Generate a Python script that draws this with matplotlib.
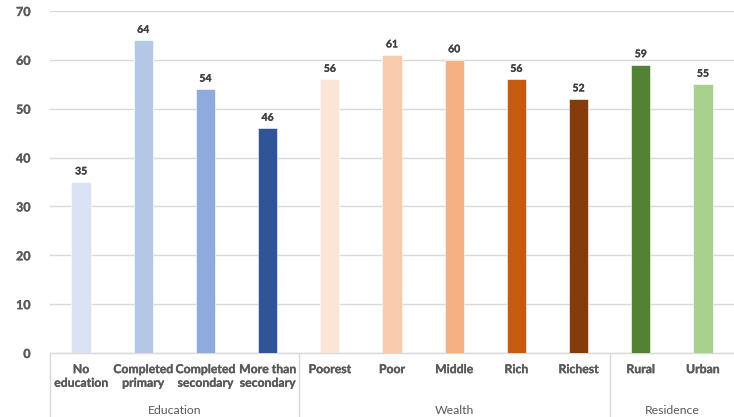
import matplotlib
matplotlib.use("Agg")
import matplotlib.pyplot as plt
import matplotlib.transforms as mtransforms
import matplotlib.patheffects as pe

plt.rcParams['font.family'] = ['Lato', 'DejaVu Sans']

categories = ["No\neducation", "Completed\nprimary", "Completed\nsecondary", "More than\nsecondary",
              "Poorest", "Poor", "Middle", "Rich", "Richest",
              "Rural", "Urban"]
values = [35, 64, 54, 46, 56, 61, 60, 56, 52, 59, 55]
colors = ["#DAE3F3", "#B4C7E7", "#8FAADC", "#2F5597",
          "#FBE5D6", "#F8CBAD", "#F4B183", "#C55A11", "#843C0C",
          "#548235", "#A9D18E"]
groups = ["Education", "Wealth", "Residence"]
group_sizes = [4, 5, 2]
yticks = [0, 10, 20, 30, 40, 50, 60, 70]

text_color = "#595959"
grid_color = "#D9D9D9"
thick = [pe.withStroke(linewidth=0.2, foreground=text_color)]

fig = plt.figure(figsize=(7.34, 4.17), dpi=100)
ax = fig.add_axes([50 / 734, 64 / 417, 684 / 734, 342 / 417])

x = list(range(len(values)))
ax.bar(x, values, width=0.31, color=colors, zorder=3, edgecolor="white", linewidth=0.4)

for xi, v in zip(x, values):
    ax.annotate(str(v), (xi, v), xytext=(0, 4), textcoords="offset points",
                ha="center", va="bottom", fontsize=7.5, fontweight="bold", color="#404040",
                path_effects=[pe.withStroke(linewidth=0.2, foreground="#404040")])

ax.set_xlim(-0.5, len(values) - 0.5)
ax.set_ylim(0, 70)
ax.set_yticks(yticks)
ax.yaxis.grid(True, color=grid_color, linewidth=1)
ax.set_axisbelow(True)
for s in ["top", "right", "left"]:
    ax.spines[s].set_visible(False)
ax.spines["bottom"].set_color(grid_color)
ax.spines["bottom"].set_linewidth(1)

ax.tick_params(axis="y", length=0, pad=14, labelsize=9, labelcolor=text_color)
for lbl in ax.get_yticklabels():
    lbl.set_fontweight("bold")
    lbl.set_path_effects(thick)

ax.set_xticks(x)
ax.set_xticklabels(categories, fontsize=8.8, fontweight="bold", color=text_color, linespacing=1.3)
ax.tick_params(axis="x", length=0, pad=8)
for lbl in ax.get_xticklabels():
    lbl.set_path_effects(thick)

# Group separators and group names below the category labels
trans = mtransforms.blended_transform_factory(ax.transData, ax.transAxes)
bounds = [-0.5]
for n in group_sizes:
    bounds.append(bounds[-1] + n)
for b in bounds[:-1]:
    ax.plot([b, b], [0, -0.19], transform=trans, color=grid_color, linewidth=1, clip_on=False)
for g, lo, hi in zip(groups, bounds[:-1], bounds[1:]):
    ax.text((lo + hi) / 2, -0.168, g, transform=trans, ha="center", va="center",
            fontsize=8.8, color=text_color)

fig.savefig("out.png", dpi=100)
